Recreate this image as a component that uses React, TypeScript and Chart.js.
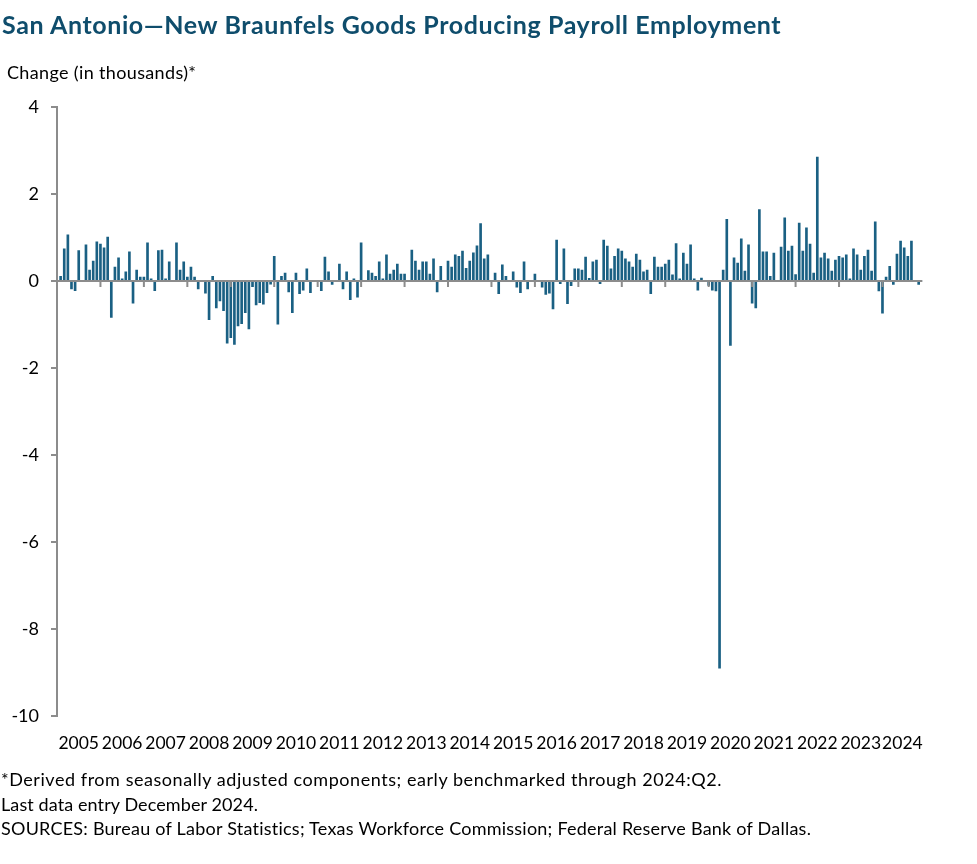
import React, { useEffect, useRef } from "react";
import { Chart, registerables } from "chart.js";

Chart.register(...registerables);

// Monthly change in goods-producing payroll employment (thousands), Jan..Dec
const years = [2005, 2006, 2007, 2008, 2009, 2010, 2011, 2012, 2013, 2014, 2015, 2016, 2017, 2018, 2019, 2020, 2021, 2022, 2023, 2024];
const v2005 = [null, 0.11, 0.74, 1.06, -0.18, -0.22, 0.7, 0, 0.83, 0.25, 0.46, 0.9];
const v2006 = [0.85, 0.76, 1.01, -0.84, 0.32, 0.53, 0.05, 0.21, 0.67, -0.51, 0.25, 0.09];
const v2007 = [0.09, 0.88, 0.05, -0.22, 0.7, 0.71, 0.05, 0.44, 0, 0.88, 0.25, 0.44];
const v2008 = [0.09, 0.32, 0.09, -0.18, 0, -0.28, -0.89, 0.11, -0.62, -0.46, -0.68, -1.43];
const v2009 = [-1.3, -1.46, -1.03, -0.98, -0.73, -1.1, -0.13, -0.55, -0.5, -0.53, -0.27, -0.07];
const v2010 = [0.57, -0.99, 0.11, 0.18, -0.25, -0.73, 0.18, -0.29, -0.21, 0.28, -0.27, 0];
const v2011 = [0, -0.22, 0.55, 0.21, -0.08, 0, 0.39, -0.18, 0.21, -0.43, 0.05, -0.37];
const v2012 = [0.88, 0, 0.24, 0.18, 0.11, 0.44, 0.05, 0.6, 0.16, 0.25, 0.39, 0.16];
const v2013 = [0.16, 0, 0.71, 0.46, 0.25, 0.44, 0.44, 0.16, 0.51, -0.25, 0.34, 0];
const v2014 = [0.46, 0.32, 0.6, 0.57, 0.69, 0.29, 0.46, 0.65, 0.81, 1.32, 0.51, 0.6];
const v2015 = [0, 0.18, -0.29, 0.37, 0.11, 0, 0.21, -0.14, -0.27, 0.44, -0.18, 0];
const v2016 = [0.16, 0, -0.14, -0.31, -0.28, -0.64, 0.94, -0.06, 0.74, -0.52, -0.11, 0.28];
const v2017 = [0.28, 0.25, 0.55, 0.06, 0.44, 0.48, -0.06, 0.94, 0.8, 0.28, 0.57, 0.74];
const v2018 = [0.69, 0.51, 0.44, 0.32, 0.62, 0.48, 0.21, 0.25, -0.29, 0.55, 0.32, 0.32];
const v2019 = [0.39, 0.48, 0.14, 0.86, 0.05, 0.64, 0.39, 0.83, 0.05, -0.21, 0.07, 0];
const v2020 = [-0.1, -0.21, -0.23, -8.9, 0.25, 1.42, -1.48, 0.53, 0.41, 0.97, 0.23, 0.83];
const v2021 = [-0.51, -0.62, 1.64, 0.67, 0.67, 0.11, 0.64, 0, 0.78, 1.45, 0.69, 0.8];
const v2022 = [0.15, 1.33, 0.69, 1.22, 0.85, 0.18, 2.85, 0.53, 0.64, 0.51, 0.23, 0.48];
const v2023 = [0.57, 0.53, 0.6, 0.05, 0.74, 0.6, 0.25, 0.57, 0.71, 0.23, 1.36, -0.23];
const v2024 = [-0.74, 0.09, 0.34, -0.08, 0.62, 0.92, 0.76, 0.57, 0.92, 0, -0.08, 0];

const yTicks = [-10, -8, -6, -4, -2, 0, 2, 4];

const allYears = [v2005, v2006, v2007, v2008, v2009, v2010, v2011, v2012, v2013, v2014, v2015, v2016, v2017, v2018, v2019, v2020, v2021, v2022, v2023, v2024];

const FONT = "Lato, 'Open Sans', sans-serif";
const BAR = "#1a6083";
const AXIS = "#8c8c8c";

const zeroAxisPlugin = {
  id: "zeroAxis",
  afterDatasetsDraw(chart: any) {
    const { ctx, chartArea, scales } = chart;
    const x = scales.x;
    const y = scales.y;
    const y0 = y.getPixelForValue(0);
    ctx.save();
    ctx.strokeStyle = AXIS;
    ctx.lineWidth = 2;
    ctx.beginPath();
    ctx.moveTo(chartArea.left, y0);
    ctx.lineTo(chartArea.right, y0);
    for (let k = 1; k < years.length; k++) {
      const px = x.getPixelForValue(k * 12);
      ctx.moveTo(px, y0);
      ctx.lineTo(px, y0 + 6);
    }
    ctx.stroke();
    ctx.restore();
  },
};

export default function App() {
  const ref = useRef<HTMLCanvasElement | null>(null);

  useEffect(() => {
    const monthly: (number | null)[] = allYears.flat();
    const lastIndex = monthly.length - 1;
    const points = monthly
      .map((v, m) => ({ x: m, y: v }))
      .filter((p) => p.y !== null);

    const chart = new Chart(ref.current as HTMLCanvasElement, {
      type: "bar",
      data: {
        datasets: [
          {
            data: points as any,
            backgroundColor: BAR,
            borderWidth: 0,
            barThickness: 2,
          },
        ],
      },
      options: {
        animation: false,
        responsive: false,
        events: [],
        layout: { padding: { top: 107, right: 54.7, left: 0, bottom: 0 } },
        plugins: {
          legend: { display: false },
          tooltip: { enabled: false },
          title: { display: false },
        },
        scales: {
          x: {
            type: "linear",
            offset: false,
            min: 0,
            max: lastIndex,
            grid: { display: false, offset: false },
            border: { display: false },
            afterBuildTicks: (scale: any) => {
              scale.ticks = years.map((_, k) => ({
                value: (k * 12 + Math.min(k * 12 + 12, lastIndex)) / 2,
              }));
            },
            afterFit: (scale: any) => {
              scale.height = 148;
            },
            ticks: {
              autoSkip: false,
              maxRotation: 0,
              minRotation: 0,
              padding: 9,
              color: "#000",
              font: { family: FONT, size: 17.5 },
              callback: (v: any) => String(years[0] + Math.floor(Number(v) / 12)),
            },
          },
          y: {
            min: -10,
            max: 4,
            afterBuildTicks: (scale: any) => {
              scale.ticks = yTicks.map((v) => ({ value: v }));
            },
            afterFit: (scale: any) => {
              scale.width = 57;
            },
            border: { display: true, color: AXIS, width: 2 },
            grid: {
              display: true,
              drawOnChartArea: false,
              drawTicks: true,
              tickLength: 6,
              color: AXIS,
              lineWidth: 2,
            },
            ticks: {
              padding: 12,
              color: "#000",
              font: { family: FONT, size: 18 },
            },
          },
        },
      },
      plugins: [zeroAxisPlugin],
    });
    return () => chart.destroy();
  }, []);

  const noteStyle: React.CSSProperties = {
    position: "absolute",
    left: 1,
    fontFamily: FONT,
    fontSize: 18,
    lineHeight: "24.5px",
    color: "#000",
    whiteSpace: "nowrap",
    margin: 0,
  };

  return (
    <div style={{ position: "absolute", left: 0, top: 0, width: 977, height: 864, background: "#fff", overflow: "hidden" }}>
      <canvas ref={ref} width={977} height={864} style={{ position: "absolute", left: 0, top: 0, width: 977, height: 864 }} />
      <div
        style={{
          position: "absolute",
          left: 2,
          top: 12,
          fontFamily: FONT,
          fontWeight: 700,
          fontSize: 25,
          lineHeight: "25px",
          letterSpacing: "0.6px",
          color: "#0f4d6c",
          whiteSpace: "nowrap",
        }}
      >
        San Antonio—New Braunfels Goods Producing Payroll Employment
      </div>
      <div
        style={{
          position: "absolute",
          left: 7,
          top: 63,
          fontFamily: FONT,
          fontSize: 18,
          lineHeight: "18px",
          letterSpacing: "0.35px",
          color: "#000",
          whiteSpace: "nowrap",
        }}
      >
        Change (in thousands)*
      </div>
      <div style={{ ...noteStyle, top: 767, letterSpacing: "0.55px" }}>
        *Derived from seasonally adjusted components; early benchmarked through 2024:Q2.
      </div>
      <div style={{ ...noteStyle, top: 791.5, letterSpacing: "0.1px" }}>
        Last data entry December 2024.
      </div>
      <div style={{ ...noteStyle, top: 816, letterSpacing: "0.23px" }}>
        SOURCES: Bureau of Labor Statistics; Texas Workforce Commission; Federal Reserve Bank of Dallas.
      </div>
    </div>
  );
}
